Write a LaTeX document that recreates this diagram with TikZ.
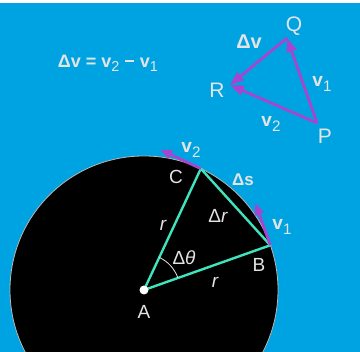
\documentclass[tikz,border=0pt]{standalone}
\usepackage{fontspec}
\setmainfont{Liberation Sans}
\usetikzlibrary{calc, arrows.meta}
\definecolor{skycolor}{HTML}{00A3E1}
\definecolor{diskcolor}{HTML}{000000}
\definecolor{rimcolor}{HTML}{B8B8B8}
\definecolor{chordcolor}{HTML}{3FE3BE}
\definecolor{velcolor}{HTML}{A646CF}
\definecolor{labelcolor}{HTML}{E4E4E4}
\newcommand{\vel}[1]{\textbf{v}\raisebox{-0.45ex}{\scalebox{0.8}{\mdseries #1}}}

\begin{document}
\begin{tikzpicture}[
    x=1pt, y=1pt,
    line join=round,
    vel/.style={velcolor, line width=2.8pt, -{Triangle[length=14pt, width=10pt]}},
    chord/.style={chordcolor, line width=2.4pt},
    lbl/.style={text=labelcolor, inner sep=0pt, font=\fontsize{19}{19}\selectfont}
]

    % Background
    \fill[skycolor] (0, 0) rectangle (360, 352);
    \fill[white] (0, 349) rectangle (360, 352);
    \useasboundingbox (0, 0) rectangle (360, 352);

    % Disc with centre A
    \coordinate (A) at (144, 62);
    \fill[diskcolor, draw=rimcolor, line width=0.8pt] (A) circle (134);
    \coordinate (B) at ($(A)+(19.5:134)$);
    \coordinate (C) at ($(A)+(64.9:134)$);

    % Triangle ABC and angle
    \draw[chord] (A) -- (B) -- (C) -- cycle;
    \draw[labelcolor, line width=0.8pt] ($(A)+(19.5:36)$) arc[start angle=19.5, end angle=64.9, radius=36];
    \fill[white] (A) circle (4.5);

    % Tangent velocities at B and C
    \coordinate (v1tip) at ($(B)+(109.5:45)$);
    \coordinate (v2tip) at ($(C)+(154.9:45)$);
    \draw[vel, -{Triangle[length=12pt, width=9pt]}] (B) -- (v1tip);
    \draw[vel, -{Triangle[length=12pt, width=9pt]}] (C) -- (v2tip);

    % Labels on the disc
    \node[lbl] (labA) at (144, 40) {A};
    \node[lbl] (labB) at (259, 87) {B};
    \node[lbl] (labC) at (176, 175) {C};
    \node[lbl] (rAC) at (163, 127) {\itshape r};
    \node[lbl] (rAB) at (215, 70) {\itshape r};
    \node[lbl] (dr) at (218, 136) {Δ\itshape r};
    \node[lbl] (dth) at (184, 94) {Δ\itshape θ};
    \node[lbl, font=\fontsize{17}{17}\selectfont\bfseries] (ds) at (243, 172) {Δs};
    \node[lbl] (lv1) at (282, 125) {\vel{1}};
    \node[lbl] (lv2) at (191, 202) {\vel{2}};

    % Vector triangle PQR
    \coordinate (P) at (317, 229);
    \coordinate (Q) at (287, 314);
    \coordinate (R) at (230, 267);
    \draw[vel] (P) -- (Q);
    \draw[vel] (P) -- (R);
    \draw[vel] (Q) -- (R);
    \node[lbl, font=\fontsize{21}{21}\selectfont] (labP) at (325, 216) {P};
    \node[lbl, font=\fontsize{21}{21}\selectfont] (labQ) at (294, 326) {Q};
    \node[lbl, font=\fontsize{21}{21}\selectfont] (labR) at (217, 262) {R};
    \node[lbl, font=\fontsize{20}{20}\selectfont] (ldv) at (249, 310) {\textbf{Δv}};
    \node[lbl] (lpv1) at (322, 268) {\vel{1}};
    \node[lbl] (lpv2) at (271, 228) {\vel{2}};

    % Relation
    \node[lbl, font=\fontsize{18}{18}\selectfont\bfseries] (eq) at (108, 289) {Δv = \vel{2} − \vel{1}};

\end{tikzpicture}
\end{document}
